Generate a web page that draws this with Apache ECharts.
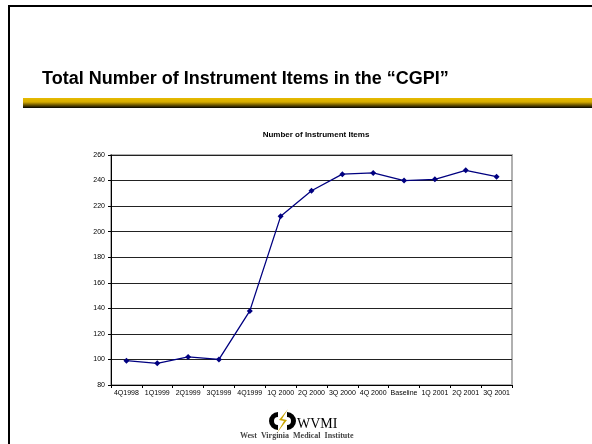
<!DOCTYPE html>
<html>
<head>
<meta charset="utf-8">
<script src="https://cdn.jsdelivr.net/npm/echarts@6/dist/echarts.min.js"></script>
<style>
  html, body { margin: 0; padding: 0; background: #fff; }
  #chart { width: 592px; height: 444px; }
</style>
</head>
<body>
<div id="chart"></div>
<script>
// Quarterly counts of instrument items in the CGPI
const quarters = ['4Q1998', '1Q1999', '2Q1999', '3Q1999', '4Q1999', '1Q 2000', '2Q 2000',
  '3Q 2000', '4Q 2000', 'Baseline', '1Q 2001', '2Q 2001', '3Q 2001'];
const itemCounts = [99, 97, 102, 100, 138, 212, 232, 245, 246, 240, 241, 248, 243];
const yTicks = { min: 80, max: 260, step: 20 };

const chart = echarts.init(document.getElementById('chart'), null, { renderer: 'canvas' });

chart.setOption({
  backgroundColor: '#ffffff',
  animation: false,
  title: {
    text: 'Number of Instrument Items',
    left: 311,
    top: 126,
    textAlign: 'center',
    textStyle: { fontFamily: 'Liberation Sans, Arial', fontSize: 8, fontWeight: 'bold', color: '#000' }
  },
  grid: {
    left: 111, right: 80, top: 155, bottom: 59,
    show: true, borderColor: '#b0b0b0', borderWidth: 2
  },
  xAxis: {
    type: 'category',
    data: quarters,
    boundaryGap: true,
    axisLine: { lineStyle: { color: '#000', width: 1 } },
    axisTick: { show: true, length: 3, lineStyle: { color: '#000' } },
    axisLabel: { fontFamily: 'Liberation Sans, Arial', fontSize: 7, color: '#000', margin: 5, interval: 0 }
  },
  yAxis: {
    type: 'value',
    min: yTicks.min, max: yTicks.max, interval: yTicks.step,
    axisLine: { show: true, lineStyle: { color: '#000', width: 1 } },
    axisTick: { show: true, length: 3, lineStyle: { color: '#000' } },
    axisLabel: { fontFamily: 'Liberation Sans, Arial', fontSize: 7, color: '#000', margin: 6 },
    splitLine: { lineStyle: { color: '#222', width: 1 } }
  },
  series: [{
    type: 'line',
    data: itemCounts,
    symbol: 'diamond',
    symbolSize: 6,
    lineStyle: { color: '#000080', width: 1.3 },
    itemStyle: { color: '#000080' }
  }],
  graphic: [
    // slide frame
    { type: 'line', shape: { x1: 9, y1: 6, x2: 592, y2: 6 }, style: { stroke: '#000', lineWidth: 2 } },
    { type: 'line', shape: { x1: 9, y1: 5, x2: 9, y2: 444 }, style: { stroke: '#000', lineWidth: 2 } },
    // slide heading
    {
      type: 'text', x: 42, y: 70,
      style: {
        text: 'Total Number of Instrument Items in the \u201CCGPI\u201D',
        font: 'bold 18px "Liberation Sans", Arial', fill: '#000'
      }
    },
    // gold rule under the heading
    {
      type: 'rect', shape: { x: 23, y: 98, width: 569, height: 10 },
      style: {
        fill: new echarts.graphic.LinearGradient(0, 0, 0, 1, [
          { offset: 0, color: '#E6BA00' },
          { offset: 0.4, color: '#D6AC00' },
          { offset: 0.75, color: '#5a4800' },
          { offset: 1, color: '#000000' }
        ])
      }
    },
    // logo mark: two black half-rings split by a gold bolt
    {
      type: 'sector', shape: { cx: 278, cy: 421, r: 9, r0: 4, startAngle: Math.PI * 0.5, endAngle: Math.PI * 1.5 },
      style: { fill: '#000' }
    },
    {
      type: 'sector', shape: { cx: 287, cy: 421, r: 9, r0: 4, startAngle: -Math.PI * 0.5, endAngle: Math.PI * 0.5 },
      style: { fill: '#000' }
    },
    {
      type: 'polygon', shape: { points: [[288, 409], [279, 420], [284, 421], [277, 433], [287, 420], [282, 419]] },
      style: { fill: '#C8A400' }
    },
    {
      type: 'text', x: 297, y: 417,
      style: { text: 'WVMI', font: '14px "Liberation Serif", "Times New Roman"', fill: '#000' }
    },
    {
      type: 'text', x: 240, y: 432,
      style: { text: 'West  Virginia  Medical  Institute', font: 'bold 8px "Liberation Serif", "Times New Roman"', fill: '#444' }
    }
  ]
});
</script>
</body>
</html>
